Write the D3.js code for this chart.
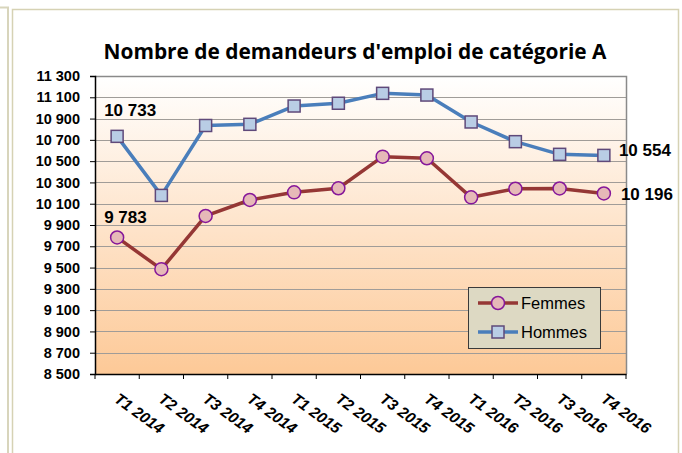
<!DOCTYPE html>
<html>
<head>
<meta charset="utf-8">
<script src="https://cdn.jsdelivr.net/npm/d3@7"></script>
<style>
  body { margin: 0; background: #fff; }
  svg { display: block; }
</style>
</head>
<body>
<svg></svg>
<script>
// chart data
const quarters = ["T1 2014", "T2 2014", "T3 2014", "T4 2014", "T1 2015", "T2 2015",
                  "T3 2015", "T4 2015", "T1 2016", "T2 2016", "T3 2016", "T4 2016"];
const femmes = [9783, 9485, 9985, 10135, 10207, 10245, 10542, 10527, 10160, 10241, 10243, 10196];
const hommes = [10733, 10178, 10835, 10846, 11018, 11044, 11137, 11121, 10868, 10683, 10564, 10554];
const yTicks = d3.range(8500, 11301, 200);
const seriesNames = ["Femmes", "Hommes"];

const W = 682, H = 453;
const PLOT_LEFT = 95, PLOT_RIGHT = 626, PLOT_TOP = 76, PLOT_BOTTOM = 374;

const svg = d3.select("svg").attr("width", W).attr("height", H);

const fr = d3.formatLocale({ decimal: ",", thousands: " ", grouping: [3], currency: ["", "€"] });
const fmt = fr.format(",d");

const x = d3.scaleBand().domain(quarters).range([PLOT_LEFT, PLOT_RIGHT]).padding(0);
const y = d3.scaleLinear().domain([8500, 11300]).range([PLOT_BOTTOM, PLOT_TOP]);
const cx = d => x(d) + x.bandwidth() / 2;

// page frames
svg.append("rect").attr("width", W).attr("height", H).attr("fill", "#fff");
svg.append("path").attr("d", "M0,7.5 H8 V453").attr("fill", "none")
  .attr("stroke", "#d8d5bc").attr("stroke-width", 2);
svg.append("path").attr("d", "M12.5,453 V9.5 H678.5 V453").attr("fill", "none")
  .attr("stroke", "#d6d2b4").attr("stroke-width", 1.5);

// gradient for plot area
const grad = svg.append("defs").append("linearGradient")
  .attr("id", "bg").attr("x1", 0).attr("y1", 0).attr("x2", 0).attr("y2", 1);
grad.append("stop").attr("offset", "0%").attr("stop-color", "#ffffff");
grad.append("stop").attr("offset", "100%").attr("stop-color", "#fdc997");

svg.append("rect")
  .attr("x", PLOT_LEFT).attr("y", PLOT_TOP)
  .attr("width", PLOT_RIGHT - PLOT_LEFT).attr("height", PLOT_BOTTOM - PLOT_TOP)
  .attr("fill", "url(#bg)");

// gridlines
svg.append("g")
  .selectAll("line")
  .data(yTicks.slice(1))
  .join("line")
  .attr("x1", PLOT_LEFT).attr("x2", PLOT_RIGHT)
  .attr("y1", d => Math.round(y(d)) + 0.5).attr("y2", d => Math.round(y(d)) + 0.5)
  .attr("stroke", "#a09c98").attr("stroke-width", 1);

// top and right border of plot
svg.append("path")
  .attr("d", `M${PLOT_LEFT},${PLOT_TOP + 0.5} H${PLOT_RIGHT + 0.5} V${PLOT_BOTTOM}`)
  .attr("fill", "none").attr("stroke", "#8a8a8a").attr("stroke-width", 1.5);

// y axis
const yAxis = svg.append("g")
  .attr("transform", `translate(${PLOT_LEFT},0)`)
  .call(d3.axisLeft(y).tickValues(yTicks).tickSize(5).tickPadding(10).tickFormat(fmt));
yAxis.select(".domain").attr("stroke", "#000").attr("stroke-width", 1.5);
yAxis.selectAll(".tick line").attr("stroke", "#000");
yAxis.selectAll("text")
  .attr("font-family", "Liberation Sans, Arial, sans-serif")
  .attr("font-weight", "bold").attr("font-size", 14.5).attr("fill", "#000");

// x axis
const xAxis = svg.append("g")
  .attr("transform", `translate(0,${PLOT_BOTTOM})`)
  .call(d3.axisBottom(x).tickSize(0).tickFormat(""));
xAxis.select(".domain").attr("stroke", "#000").attr("stroke-width", 1.5);
svg.append("g")
  .selectAll("line")
  .data(d3.range(quarters.length + 1))
  .join("line")
  .attr("x1", i => PLOT_LEFT + i * x.step()).attr("x2", i => PLOT_LEFT + i * x.step())
  .attr("y1", PLOT_BOTTOM).attr("y2", PLOT_BOTTOM + 5)
  .attr("stroke", "#000");
svg.append("g")
  .selectAll("text")
  .data(quarters)
  .join("text")
  .attr("transform", d => `translate(${cx(d) - 4},${PLOT_BOTTOM + 27}) rotate(36)`)
  .attr("font-family", "Liberation Sans, Arial, sans-serif")
  .attr("font-weight", "bold").attr("font-style", "italic").attr("font-size", 15.5)
  .text(d => d);

// lines
const series = [
  { name: seriesNames[0], values: femmes, line: "#953735", fill: "#e6b9b8", stroke: "#86179a", shape: "circle" },
  { name: seriesNames[1], values: hommes, line: "#4a7ebb", fill: "#b9cde5", stroke: "#5f497a", shape: "square" }
];

const lineGen = d3.line().x((d, i) => cx(quarters[i])).y(d => y(d));

function drawMarker(g, shape, px, py, s) {
  if (shape === "circle") {
    g.append("circle").attr("cx", px).attr("cy", py).attr("r", 6.5)
      .attr("fill", s.fill).attr("stroke", s.stroke).attr("stroke-width", 1.5);
  } else {
    g.append("rect").attr("x", px - 6).attr("y", py - 6).attr("width", 12).attr("height", 12)
      .attr("fill", s.fill).attr("stroke", s.stroke).attr("stroke-width", 1.5);
  }
}

series.forEach(s => {
  svg.append("path")
    .datum(s.values)
    .attr("d", lineGen)
    .attr("fill", "none").attr("stroke", s.line).attr("stroke-width", 3.5)
    .attr("stroke-linejoin", "round");
  const g = svg.append("g");
  s.values.forEach((v, i) => drawMarker(g, s.shape, cx(quarters[i]), y(v), s));
});

// data labels at first and last points
const labelFont = g => g.attr("font-family", "Liberation Sans, Arial, sans-serif")
  .attr("font-weight", "bold").attr("font-size", 17).attr("fill", "#000");
const last = quarters.length - 1;
svg.append("text").call(labelFont)
  .attr("x", cx(quarters[0]) - 13).attr("y", y(hommes[0]) - 20).text(fmt(hommes[0]));
svg.append("text").call(labelFont)
  .attr("x", cx(quarters[0]) - 13).attr("y", y(femmes[0]) - 14).text(fmt(femmes[0]));
svg.append("text").call(labelFont)
  .attr("x", cx(quarters[last]) + 15).attr("y", y(hommes[last]) + 1).text(fmt(hommes[last]));
svg.append("text").call(labelFont)
  .attr("x", cx(quarters[last]) + 17).attr("y", y(femmes[last]) + 7).text(fmt(femmes[last]));

// title
svg.append("text")
  .attr("x", 355).attr("y", 59)
  .attr("text-anchor", "middle")
  .attr("font-family", "Open Sans, sans-serif")
  .attr("font-weight", "bold").attr("font-size", 22)
  .attr("textLength", 503).attr("lengthAdjust", "spacingAndGlyphs")
  .text("Nombre de demandeurs d'emploi de catégorie A");

// legend
const legend = svg.append("g").attr("transform", "translate(468,287)");
legend.append("rect").attr("x", 0.5).attr("y", 0.5).attr("width", 132).attr("height", 61)
  .attr("fill", "#ddd9c3").attr("stroke", "#3a3a3a").attr("stroke-width", 1);
series.forEach((s, i) => {
  const ly = 16 + i * 29;
  legend.append("line").attr("x1", 10).attr("x2", 50).attr("y1", ly).attr("y2", ly)
    .attr("stroke", s.line).attr("stroke-width", 3.5);
  drawMarker(legend, s.shape, 30, ly, s);
  legend.append("text").attr("x", 53).attr("y", ly + 6)
    .attr("font-family", "Liberation Sans, Arial, sans-serif")
    .attr("font-size", 16.5).text(s.name);
});
</script>
</body>
</html>
